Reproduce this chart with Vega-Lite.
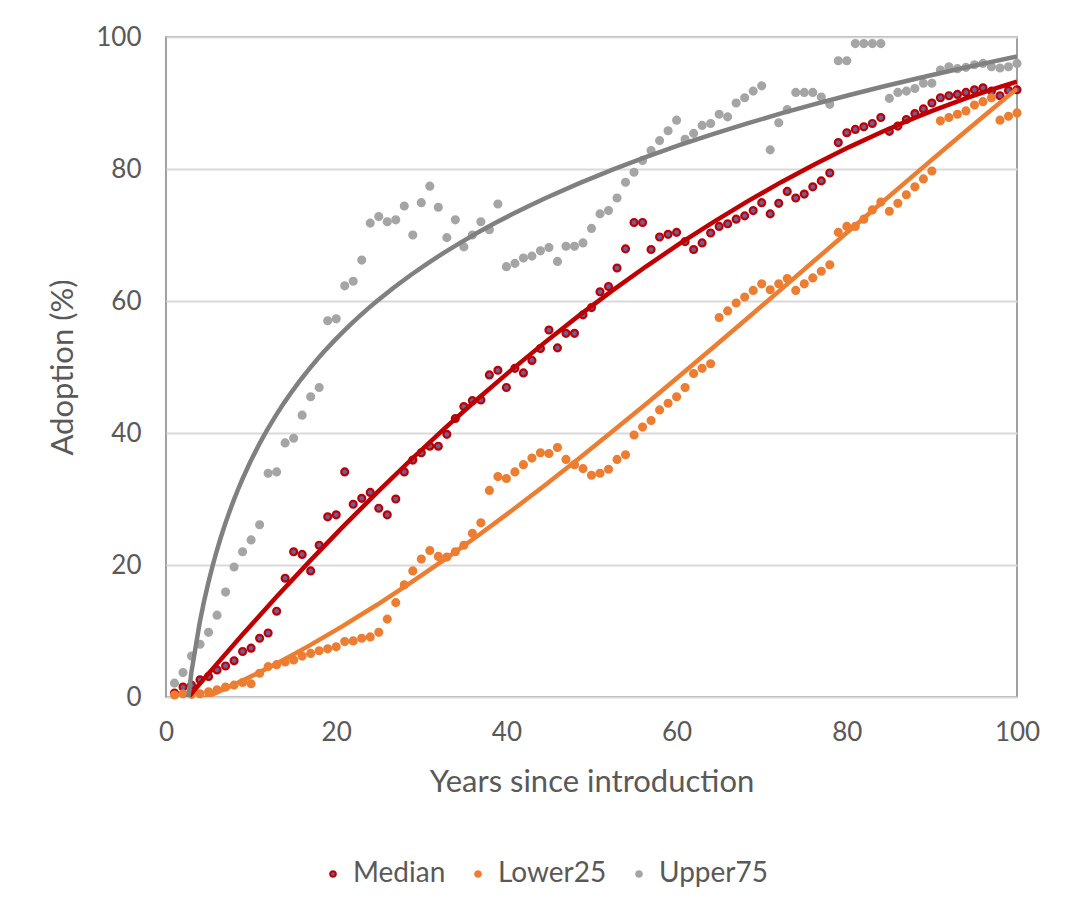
{
  "$schema": "https://vega.github.io/schema/vega-lite/v6.json",
  "width": 851,
  "height": 660,
  "autosize": {"type": "none"},
  "padding": {"left": 166, "top": 37, "right": 57, "bottom": 222},
  "background": "white",
  "config": {
    "font": "Lato",
    "view": {"stroke": "#8a8a8a", "strokeWidth": 1.6},
    "axis": {"labelFont": "Lato", "titleFont": "Lato", "labelColor": "#595959", "titleColor": "#595959", "labelFontSize": 26, "titleFontSize": 31, "titleFontWeight": "normal", "ticks": false, "domain": false, "labelFlush": false},
    "legend": {"labelFont": "Lato", "labelFontSize": 28, "labelColor": "#595959"}
  },
  "datasets": {
    "adoption": [
      {"year":1,"series":"Median","adoption":0.6},{"year":2,"series":"Median","adoption":1.5},{"year":3,"series":"Median","adoption":1.8},{"year":4,"series":"Median","adoption":2.6},{"year":5,"series":"Median","adoption":3.1},{"year":6,"series":"Median","adoption":4.1},{"year":7,"series":"Median","adoption":4.7},{"year":8,"series":"Median","adoption":5.5},{"year":9,"series":"Median","adoption":6.9},{"year":10,"series":"Median","adoption":7.4},
      {"year":11,"series":"Median","adoption":8.9},{"year":12,"series":"Median","adoption":9.7},{"year":13,"series":"Median","adoption":13.0},{"year":14,"series":"Median","adoption":18.0},{"year":15,"series":"Median","adoption":22.0},{"year":16,"series":"Median","adoption":21.6},{"year":17,"series":"Median","adoption":19.1},{"year":18,"series":"Median","adoption":23.0},{"year":19,"series":"Median","adoption":27.3},{"year":20,"series":"Median","adoption":27.6},
      {"year":21,"series":"Median","adoption":34.1},{"year":22,"series":"Median","adoption":29.2},{"year":23,"series":"Median","adoption":30.1},{"year":24,"series":"Median","adoption":31.0},{"year":25,"series":"Median","adoption":28.6},{"year":26,"series":"Median","adoption":27.6},{"year":27,"series":"Median","adoption":30.0},{"year":28,"series":"Median","adoption":34.1},{"year":29,"series":"Median","adoption":35.9},{"year":30,"series":"Median","adoption":37.0},
      {"year":31,"series":"Median","adoption":38.0},{"year":32,"series":"Median","adoption":38.0},{"year":33,"series":"Median","adoption":39.8},{"year":34,"series":"Median","adoption":42.2},{"year":35,"series":"Median","adoption":44.0},{"year":36,"series":"Median","adoption":44.9},{"year":37,"series":"Median","adoption":45.0},{"year":38,"series":"Median","adoption":48.8},{"year":39,"series":"Median","adoption":49.5},{"year":40,"series":"Median","adoption":46.9},
      {"year":41,"series":"Median","adoption":49.8},{"year":42,"series":"Median","adoption":49.1},{"year":43,"series":"Median","adoption":51.0},{"year":44,"series":"Median","adoption":52.8},{"year":45,"series":"Median","adoption":55.6},{"year":46,"series":"Median","adoption":52.9},{"year":47,"series":"Median","adoption":55.1},{"year":48,"series":"Median","adoption":55.1},{"year":49,"series":"Median","adoption":57.9},{"year":50,"series":"Median","adoption":59.0},
      {"year":51,"series":"Median","adoption":61.4},{"year":52,"series":"Median","adoption":62.2},{"year":53,"series":"Median","adoption":65.0},{"year":54,"series":"Median","adoption":67.9},{"year":55,"series":"Median","adoption":71.9},{"year":56,"series":"Median","adoption":71.9},{"year":57,"series":"Median","adoption":67.8},{"year":58,"series":"Median","adoption":69.7},{"year":59,"series":"Median","adoption":70.1},{"year":60,"series":"Median","adoption":70.4},
      {"year":61,"series":"Median","adoption":69.0},{"year":62,"series":"Median","adoption":67.8},{"year":63,"series":"Median","adoption":68.8},{"year":64,"series":"Median","adoption":70.3},{"year":65,"series":"Median","adoption":71.3},{"year":66,"series":"Median","adoption":71.7},{"year":67,"series":"Median","adoption":72.4},{"year":68,"series":"Median","adoption":72.9},{"year":69,"series":"Median","adoption":73.7},{"year":70,"series":"Median","adoption":74.9},
      {"year":71,"series":"Median","adoption":73.2},{"year":72,"series":"Median","adoption":74.8},{"year":73,"series":"Median","adoption":76.6},{"year":74,"series":"Median","adoption":75.6},{"year":75,"series":"Median","adoption":76.2},{"year":76,"series":"Median","adoption":77.3},{"year":77,"series":"Median","adoption":78.2},{"year":78,"series":"Median","adoption":79.4},{"year":79,"series":"Median","adoption":84.0},{"year":80,"series":"Median","adoption":85.5},
      {"year":81,"series":"Median","adoption":86.0},{"year":82,"series":"Median","adoption":86.4},{"year":83,"series":"Median","adoption":86.9},{"year":84,"series":"Median","adoption":87.8},{"year":85,"series":"Median","adoption":85.7},{"year":86,"series":"Median","adoption":86.5},{"year":87,"series":"Median","adoption":87.5},{"year":88,"series":"Median","adoption":88.4},{"year":89,"series":"Median","adoption":89.1},{"year":90,"series":"Median","adoption":90.0},
      {"year":91,"series":"Median","adoption":90.8},{"year":92,"series":"Median","adoption":91.1},{"year":93,"series":"Median","adoption":91.3},{"year":94,"series":"Median","adoption":91.6},{"year":95,"series":"Median","adoption":92.0},{"year":96,"series":"Median","adoption":92.3},{"year":97,"series":"Median","adoption":91.8},{"year":98,"series":"Median","adoption":91.1},{"year":99,"series":"Median","adoption":91.9},{"year":100,"series":"Median","adoption":92.0},

      {"year":1,"series":"Lower25","adoption":0.3},{"year":2,"series":"Lower25","adoption":0.5},{"year":3,"series":"Lower25","adoption":0.4},{"year":4,"series":"Lower25","adoption":0.5},{"year":5,"series":"Lower25","adoption":0.8},{"year":6,"series":"Lower25","adoption":1.1},{"year":7,"series":"Lower25","adoption":1.5},{"year":8,"series":"Lower25","adoption":1.8},{"year":9,"series":"Lower25","adoption":2.2},{"year":10,"series":"Lower25","adoption":2.0},
      {"year":11,"series":"Lower25","adoption":3.6},{"year":12,"series":"Lower25","adoption":4.6},{"year":13,"series":"Lower25","adoption":4.9},{"year":14,"series":"Lower25","adoption":5.3},{"year":15,"series":"Lower25","adoption":5.6},{"year":16,"series":"Lower25","adoption":6.2},{"year":17,"series":"Lower25","adoption":6.6},{"year":18,"series":"Lower25","adoption":7.0},{"year":19,"series":"Lower25","adoption":7.3},{"year":20,"series":"Lower25","adoption":7.6},
      {"year":21,"series":"Lower25","adoption":8.4},{"year":22,"series":"Lower25","adoption":8.5},{"year":23,"series":"Lower25","adoption":8.9},{"year":24,"series":"Lower25","adoption":9.1},{"year":25,"series":"Lower25","adoption":9.8},{"year":26,"series":"Lower25","adoption":11.8},{"year":27,"series":"Lower25","adoption":14.3},{"year":28,"series":"Lower25","adoption":17.0},{"year":29,"series":"Lower25","adoption":19.1},{"year":30,"series":"Lower25","adoption":20.9},
      {"year":31,"series":"Lower25","adoption":22.2},{"year":32,"series":"Lower25","adoption":21.3},{"year":33,"series":"Lower25","adoption":21.2},{"year":34,"series":"Lower25","adoption":22.0},{"year":35,"series":"Lower25","adoption":23.0},{"year":36,"series":"Lower25","adoption":24.8},{"year":37,"series":"Lower25","adoption":26.4},{"year":38,"series":"Lower25","adoption":31.3},{"year":39,"series":"Lower25","adoption":33.4},{"year":40,"series":"Lower25","adoption":33.1},
      {"year":41,"series":"Lower25","adoption":34.1},{"year":42,"series":"Lower25","adoption":35.2},{"year":43,"series":"Lower25","adoption":36.2},{"year":44,"series":"Lower25","adoption":37.0},{"year":45,"series":"Lower25","adoption":36.9},{"year":46,"series":"Lower25","adoption":37.8},{"year":47,"series":"Lower25","adoption":36.0},{"year":48,"series":"Lower25","adoption":35.2},{"year":49,"series":"Lower25","adoption":34.6},{"year":50,"series":"Lower25","adoption":33.6},
      {"year":51,"series":"Lower25","adoption":33.9},{"year":52,"series":"Lower25","adoption":34.5},{"year":53,"series":"Lower25","adoption":36.0},{"year":54,"series":"Lower25","adoption":36.7},{"year":55,"series":"Lower25","adoption":39.7},{"year":56,"series":"Lower25","adoption":40.9},{"year":57,"series":"Lower25","adoption":41.9},{"year":58,"series":"Lower25","adoption":43.5},{"year":59,"series":"Lower25","adoption":44.5},{"year":60,"series":"Lower25","adoption":45.5},
      {"year":61,"series":"Lower25","adoption":46.9},{"year":62,"series":"Lower25","adoption":49.0},{"year":63,"series":"Lower25","adoption":49.8},{"year":64,"series":"Lower25","adoption":50.5},{"year":65,"series":"Lower25","adoption":57.5},{"year":66,"series":"Lower25","adoption":58.5},{"year":67,"series":"Lower25","adoption":59.7},{"year":68,"series":"Lower25","adoption":60.6},{"year":69,"series":"Lower25","adoption":61.6},{"year":70,"series":"Lower25","adoption":62.6},
      {"year":71,"series":"Lower25","adoption":61.7},{"year":72,"series":"Lower25","adoption":62.6},{"year":73,"series":"Lower25","adoption":63.4},{"year":74,"series":"Lower25","adoption":61.6},{"year":75,"series":"Lower25","adoption":62.6},{"year":76,"series":"Lower25","adoption":63.5},{"year":77,"series":"Lower25","adoption":64.5},{"year":78,"series":"Lower25","adoption":65.5},{"year":79,"series":"Lower25","adoption":70.4},{"year":80,"series":"Lower25","adoption":71.3},
      {"year":81,"series":"Lower25","adoption":71.3},{"year":82,"series":"Lower25","adoption":72.4},{"year":83,"series":"Lower25","adoption":73.8},{"year":84,"series":"Lower25","adoption":75.0},{"year":85,"series":"Lower25","adoption":73.6},{"year":86,"series":"Lower25","adoption":74.8},{"year":87,"series":"Lower25","adoption":76.1},{"year":88,"series":"Lower25","adoption":77.3},{"year":89,"series":"Lower25","adoption":78.5},{"year":90,"series":"Lower25","adoption":79.7},
      {"year":91,"series":"Lower25","adoption":87.3},{"year":92,"series":"Lower25","adoption":87.8},{"year":93,"series":"Lower25","adoption":88.3},{"year":94,"series":"Lower25","adoption":88.8},{"year":95,"series":"Lower25","adoption":89.7},{"year":96,"series":"Lower25","adoption":90.2},{"year":97,"series":"Lower25","adoption":90.8},{"year":98,"series":"Lower25","adoption":87.4},{"year":99,"series":"Lower25","adoption":88.0},{"year":100,"series":"Lower25","adoption":88.5},

      {"year":1,"series":"Upper75","adoption":2.1},{"year":2,"series":"Upper75","adoption":3.7},{"year":3,"series":"Upper75","adoption":6.2},{"year":4,"series":"Upper75","adoption":8.0},{"year":5,"series":"Upper75","adoption":9.8},{"year":6,"series":"Upper75","adoption":12.4},{"year":7,"series":"Upper75","adoption":15.9},{"year":8,"series":"Upper75","adoption":19.7},{"year":9,"series":"Upper75","adoption":22.0},{"year":10,"series":"Upper75","adoption":23.8},
      {"year":11,"series":"Upper75","adoption":26.1},{"year":12,"series":"Upper75","adoption":33.9},{"year":13,"series":"Upper75","adoption":34.1},{"year":14,"series":"Upper75","adoption":38.5},{"year":15,"series":"Upper75","adoption":39.2},{"year":16,"series":"Upper75","adoption":42.7},{"year":17,"series":"Upper75","adoption":45.5},{"year":18,"series":"Upper75","adoption":46.9},{"year":19,"series":"Upper75","adoption":57.0},{"year":20,"series":"Upper75","adoption":57.3},
      {"year":21,"series":"Upper75","adoption":62.3},{"year":22,"series":"Upper75","adoption":63.0},{"year":23,"series":"Upper75","adoption":66.2},{"year":24,"series":"Upper75","adoption":71.8},{"year":25,"series":"Upper75","adoption":72.8},{"year":26,"series":"Upper75","adoption":72.0},{"year":27,"series":"Upper75","adoption":72.3},{"year":28,"series":"Upper75","adoption":74.4},{"year":29,"series":"Upper75","adoption":70.0},{"year":30,"series":"Upper75","adoption":74.9},
      {"year":31,"series":"Upper75","adoption":77.4},{"year":32,"series":"Upper75","adoption":74.2},{"year":33,"series":"Upper75","adoption":69.6},{"year":34,"series":"Upper75","adoption":72.3},{"year":35,"series":"Upper75","adoption":68.2},{"year":36,"series":"Upper75","adoption":70.0},{"year":37,"series":"Upper75","adoption":72.0},{"year":38,"series":"Upper75","adoption":70.8},{"year":39,"series":"Upper75","adoption":74.7},{"year":40,"series":"Upper75","adoption":65.2},
      {"year":41,"series":"Upper75","adoption":65.7},{"year":42,"series":"Upper75","adoption":66.5},{"year":43,"series":"Upper75","adoption":66.8},{"year":44,"series":"Upper75","adoption":67.6},{"year":45,"series":"Upper75","adoption":68.1},{"year":46,"series":"Upper75","adoption":66.0},{"year":47,"series":"Upper75","adoption":68.3},{"year":48,"series":"Upper75","adoption":68.3},{"year":49,"series":"Upper75","adoption":68.8},{"year":50,"series":"Upper75","adoption":71.0},
      {"year":51,"series":"Upper75","adoption":73.2},{"year":52,"series":"Upper75","adoption":73.7},{"year":53,"series":"Upper75","adoption":75.6},{"year":54,"series":"Upper75","adoption":78.0},{"year":55,"series":"Upper75","adoption":79.5},{"year":56,"series":"Upper75","adoption":81.3},{"year":57,"series":"Upper75","adoption":82.8},{"year":58,"series":"Upper75","adoption":84.3},{"year":59,"series":"Upper75","adoption":85.8},{"year":60,"series":"Upper75","adoption":87.4},
      {"year":61,"series":"Upper75","adoption":84.5},{"year":62,"series":"Upper75","adoption":85.4},{"year":63,"series":"Upper75","adoption":86.6},{"year":64,"series":"Upper75","adoption":86.9},{"year":65,"series":"Upper75","adoption":88.3},{"year":66,"series":"Upper75","adoption":87.9},{"year":67,"series":"Upper75","adoption":90.0},{"year":68,"series":"Upper75","adoption":90.8},{"year":69,"series":"Upper75","adoption":91.8},{"year":70,"series":"Upper75","adoption":92.6},
      {"year":71,"series":"Upper75","adoption":82.9},{"year":72,"series":"Upper75","adoption":87.0},{"year":73,"series":"Upper75","adoption":89.0},{"year":74,"series":"Upper75","adoption":91.6},{"year":75,"series":"Upper75","adoption":91.6},{"year":76,"series":"Upper75","adoption":91.6},{"year":77,"series":"Upper75","adoption":90.9},{"year":78,"series":"Upper75","adoption":89.8},{"year":79,"series":"Upper75","adoption":96.4},{"year":80,"series":"Upper75","adoption":96.4},
      {"year":81,"series":"Upper75","adoption":99.0},{"year":82,"series":"Upper75","adoption":99.0},{"year":83,"series":"Upper75","adoption":99.0},{"year":84,"series":"Upper75","adoption":99.0},{"year":85,"series":"Upper75","adoption":90.7},{"year":86,"series":"Upper75","adoption":91.6},{"year":87,"series":"Upper75","adoption":91.8},{"year":88,"series":"Upper75","adoption":92.2},{"year":89,"series":"Upper75","adoption":93.0},{"year":90,"series":"Upper75","adoption":93.0},
      {"year":91,"series":"Upper75","adoption":95.0},{"year":92,"series":"Upper75","adoption":95.5},{"year":93,"series":"Upper75","adoption":95.2},{"year":94,"series":"Upper75","adoption":95.4},{"year":95,"series":"Upper75","adoption":95.8},{"year":96,"series":"Upper75","adoption":96.0},{"year":97,"series":"Upper75","adoption":95.5},{"year":98,"series":"Upper75","adoption":95.3},{"year":99,"series":"Upper75","adoption":95.5},{"year":100,"series":"Upper75","adoption":96.0}
    ]
  },
  "data": {"name": "adoption"},
  "encoding": {
    "x": {
      "field": "year", "type": "quantitative",
      "scale": {"domain": [0, 100], "nice": false, "zero": false},
      "axis": {"values": [0, 20, 40, 60, 80, 100], "grid": false, "labelPadding": 22, "title": "Years since introduction", "titlePadding": 22}
    },
    "y": {
      "field": "adoption", "type": "quantitative",
      "scale": {"domain": [0, 100], "nice": false},
      "axis": {"values": [0, 20, 40, 60, 80, 100], "grid": true, "gridColor": "#d9d9d9", "gridWidth": 2, "labelPadding": 25, "title": "Adoption (%)", "titlePadding": 16}
    }
  },
  "layer": [
    {
      "mark": {"type": "point", "filled": true, "size": 48, "strokeWidth": 2.2, "opacity": 1, "fillOpacity": 1, "strokeOpacity": 1},
      "encoding": {
        "fill": {
          "field": "series", "type": "nominal",
          "scale": {"domain": ["Median", "Lower25", "Upper75"], "range": ["#6a5f9c", "#ed7d31", "#a5a5a5"]},
          "legend": {"title": null, "orient": "none", "legendX": 153, "legendY": 823, "direction": "horizontal", "symbolType": "circle", "symbolSize": 30, "symbolStrokeWidth": 2.2, "labelOffset": 6, "columnPadding": 18, "padding": 0}
        },
        "stroke": {
          "field": "series", "type": "nominal",
          "scale": {"domain": ["Median", "Lower25", "Upper75"], "range": ["#c00000", "#ed7d31", "#a5a5a5"]},
          "legend": {"title": null, "orient": "none", "legendX": 153, "legendY": 823, "direction": "horizontal", "symbolType": "circle", "symbolSize": 30, "symbolStrokeWidth": 2.2, "labelOffset": 6, "columnPadding": 18, "padding": 0}
        }
      }
    },
    {
      "transform": [
        {"filter": "datum.series === 'Median'"},
        {"regression": "adoption", "on": "year", "method": "poly", "order": 2, "extent": [1, 100]}
      ],
      "mark": {"type": "line", "color": "#c00000", "strokeWidth": 4.5, "clip": true}
    },
    {
      "transform": [
        {"filter": "datum.series === 'Lower25'"},
        {"regression": "adoption", "on": "year", "method": "poly", "order": 3, "extent": [1, 100]}
      ],
      "mark": {"type": "line", "color": "#ed7d31", "strokeWidth": 4.5, "clip": true}
    },
    {
      "transform": [
        {"filter": "datum.series === 'Upper75'"},
        {"regression": "adoption", "on": "year", "method": "log", "extent": [1, 100]}
      ],
      "mark": {"type": "line", "color": "#808080", "strokeWidth": 4.5, "clip": true}
    }
  ]
}
